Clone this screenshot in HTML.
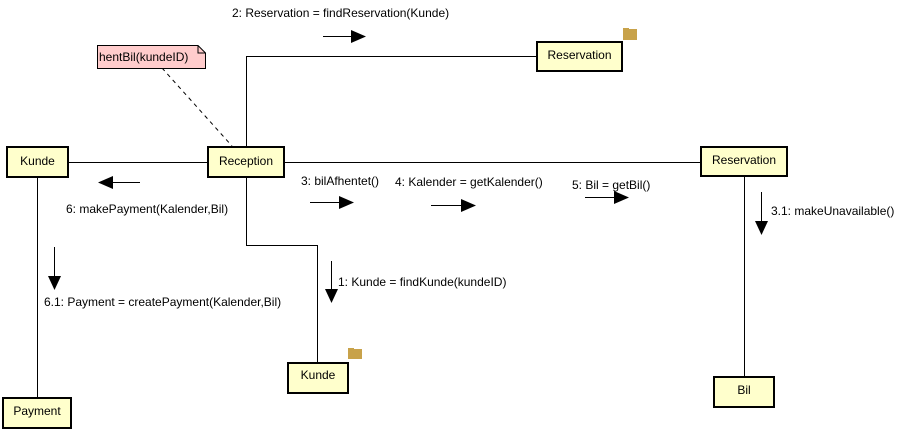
<!DOCTYPE html>
<html><head><meta charset="utf-8"><style>
html,body{margin:0;padding:0;background:#fff;}
svg{display:block;}
text{font-family:"Liberation Sans",sans-serif;font-size:12px;fill:#000;}
</style></head><body>
<svg width="904" height="432" viewBox="0 0 904 432" xmlns="http://www.w3.org/2000/svg">
<g stroke="#000" stroke-width="1" fill="none">
<line x1="68" y1="162.5" x2="207" y2="162.5"/>
<line x1="285" y1="162.5" x2="700" y2="162.5"/>
<polyline points="246.5,146 246.5,56.5 536,56.5"/>
<polyline points="246.5,178 246.5,245.5 317.5,245.5 317.5,362"/>
<line x1="37.5" y1="178" x2="37.5" y2="397"/>
<line x1="744.5" y1="177" x2="744.5" y2="376"/>
<line x1="162" y1="68" x2="232" y2="146" stroke-dasharray="4,4"/>
<line x1="323" y1="36.5" x2="352" y2="36.5"/>
<line x1="112" y1="182.5" x2="140" y2="182.5"/>
<line x1="310" y1="202.5" x2="340" y2="202.5"/>
<line x1="431" y1="205.5" x2="462" y2="205.5"/>
<line x1="585" y1="197.5" x2="615" y2="197.5"/>
<line x1="761.5" y1="192" x2="761.5" y2="222"/>
<line x1="331.5" y1="261" x2="331.5" y2="290"/>
<line x1="54.5" y1="247" x2="54.5" y2="277"/>
</g>
<g fill="#000">
<polygon points="351,30 366,36.5 351,43"/>
<polygon points="113,176 98,182.5 113,189"/>
<polygon points="339,196 354,202.5 339,209"/>
<polygon points="461,199 476,205.5 461,212"/>
<polygon points="614,191 629,197.5 614,204"/>
<polygon points="755,221 768,221 761.5,235"/>
<polygon points="325,289 338,289 331.5,303"/>
<polygon points="48,276 61,276 54.5,290"/>
</g>
<path d="M97.5,45.5 H198 L205.5,53 V68.5 H97.5 Z" fill="#ffcccc" stroke="#000"/>
<path d="M198,45.5 V53 H205.5" fill="none" stroke="#000"/>
<text x="99" y="61">hentBil(kundeID)</text>
<rect x="623" y="29" width="14" height="11" fill="#c8a24a"/>
<rect x="623" y="28" width="6" height="3" fill="#c8a24a"/>
<rect x="348" y="349" width="14" height="10" fill="#c8a24a"/>
<rect x="348" y="348" width="6" height="3" fill="#c8a24a"/>
<g fill="#ffffcc" stroke="#000" stroke-width="2">
<rect x="7" y="147" width="61" height="30"/>
<rect x="208" y="147" width="76" height="30"/>
<rect x="537" y="42" width="85" height="29"/>
<rect x="701" y="147" width="86" height="29"/>
<rect x="3" y="398" width="68" height="30"/>
<rect x="288" y="363" width="60" height="30"/>
<rect x="714" y="377" width="60" height="30"/>
</g>
<g text-anchor="middle">
<text x="37.5" y="165">Kunde</text>
<text x="246" y="165">Reception</text>
<text x="579.5" y="59">Reservation</text>
<text x="744" y="164">Reservation</text>
<text x="37" y="415">Payment</text>
<text x="318" y="379">Kunde</text>
<text x="744" y="394">Bil</text>
</g>
<text x="232" y="17">2: Reservation = findReservation(Kunde)</text>
<text x="66" y="213">6: makePayment(Kalender,Bil)</text>
<text x="301" y="185">3: bilAfhentet()</text>
<text x="395" y="186">4: Kalender = getKalender()</text>
<text x="572" y="189">5: Bil = getBil()</text>
<text x="771" y="215">3.1: makeUnavailable()</text>
<text x="338" y="286">1: Kunde = findKunde(kundeID)</text>
<text x="44" y="306">6.1: Payment = createPayment(Kalender,Bil)</text>
</svg>
</body></html>
